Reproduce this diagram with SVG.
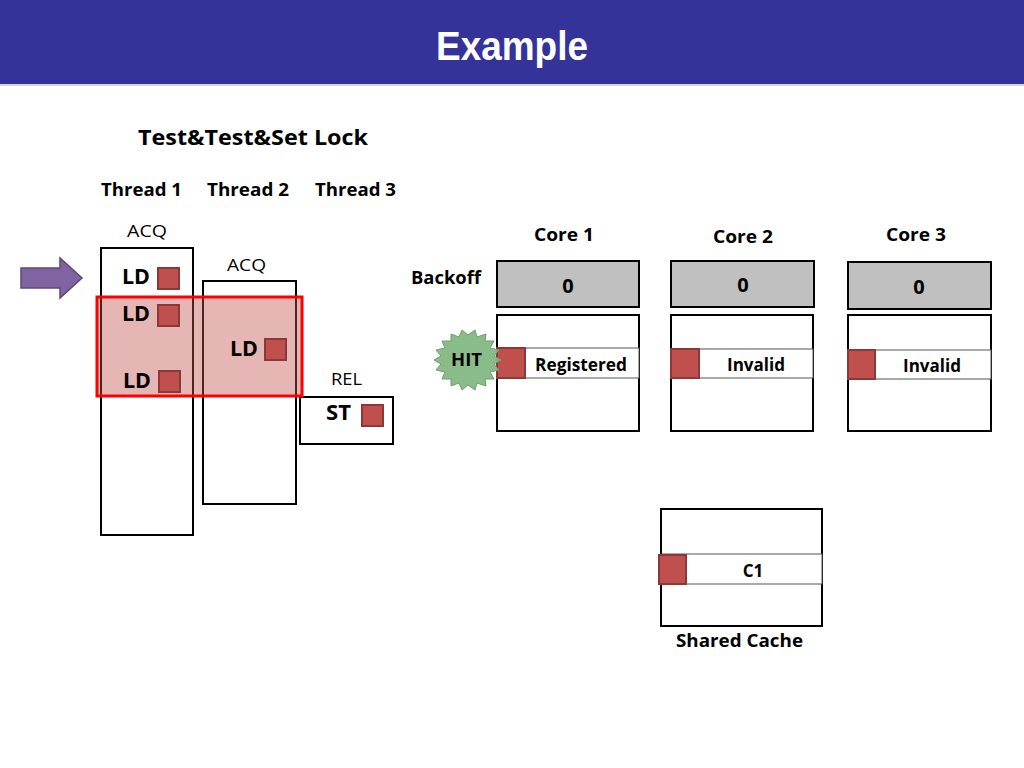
<svg xmlns="http://www.w3.org/2000/svg" width="1024" height="768" viewBox="0 0 1024 768">
<style>
.t{font-family:"Open Sans",Lato,"Liberation Sans",sans-serif;font-weight:bold;fill:#000}
.r{font-family:"Open Sans",Lato,"Liberation Sans",sans-serif;font-weight:normal;fill:#000}
.box{fill:#fff;stroke:#000;stroke-width:2}
.gray{fill:#c0c0c0;stroke:#000;stroke-width:2}
.row{fill:#fff;stroke:#555;stroke-width:1}
.sq{fill:#c0504d;stroke:#8c3836;stroke-width:2}
</style>
<rect x="0" y="0" width="1024" height="768" fill="#fff"/>
<g id="header">
<rect x="0" y="0" width="1024" height="84" fill="#343399"/>
<line x1="0" y1="85" x2="1024" y2="85" stroke="#c8c8ee" stroke-width="1.5"/>
<text x="512" y="60" text-anchor="middle" textLength="152" lengthAdjust="spacingAndGlyphs" style="font-family:'Liberation Sans',sans-serif;font-weight:bold;font-size:40px;fill:#fff">Example</text>
</g>
<g id="labels">
<text class="t" x="253" y="145" text-anchor="middle" font-size="21" textLength="230" lengthAdjust="spacingAndGlyphs">Test&amp;Test&amp;Set Lock</text>
<text class="t" x="141.5" y="196" text-anchor="middle" font-size="18" textLength="81" lengthAdjust="spacingAndGlyphs">Thread 1</text>
<text class="t" x="248" y="196" text-anchor="middle" font-size="18" textLength="82" lengthAdjust="spacingAndGlyphs">Thread 2</text>
<text class="t" x="355.5" y="196" text-anchor="middle" font-size="18" textLength="81" lengthAdjust="spacingAndGlyphs">Thread 3</text>
</g>
<g id="arrow">
<path d="M21,268 L60,268 L60,258 L82,278 L60,298 L60,288 L21,288 Z" fill="#8064a2" stroke="#5c4776" stroke-width="1.5"/>
</g>
<g id="thread1">
<text class="r" x="147" y="237" text-anchor="middle" font-size="17" textLength="40" lengthAdjust="spacingAndGlyphs">ACQ</text>
<rect class="box" x="101" y="248" width="92" height="287"/>
</g>
<g id="thread2">
<text class="r" x="246.5" y="271" text-anchor="middle" font-size="17" textLength="39" lengthAdjust="spacingAndGlyphs">ACQ</text>
<rect class="box" x="203" y="281" width="93" height="223"/>
</g>
<g id="thread3">
<text class="r" x="346.5" y="385" text-anchor="middle" font-size="17" textLength="31" lengthAdjust="spacingAndGlyphs">REL</text>
<rect class="box" x="300" y="397" width="93" height="47"/>
<text class="t" x="338.5" y="420" text-anchor="middle" font-size="21" textLength="25" lengthAdjust="spacingAndGlyphs">ST</text>
<rect class="sq" x="362" y="405" width="21" height="21"/>
</g>
<g id="highlight">
<rect x="97" y="297" width="205" height="99" fill="#c0504d" fill-opacity="0.42" stroke="#ff0000" stroke-width="3"/>
</g>
<g id="ops">
<text class="t" x="136" y="284" text-anchor="middle" font-size="21" textLength="28" lengthAdjust="spacingAndGlyphs">LD</text>
<rect class="sq" x="158" y="268" width="21" height="21"/>
<text class="t" x="136" y="321" text-anchor="middle" font-size="21" textLength="28" lengthAdjust="spacingAndGlyphs">LD</text>
<rect class="sq" x="158" y="305" width="21" height="21"/>
<text class="t" x="244" y="356" text-anchor="middle" font-size="21" textLength="28" lengthAdjust="spacingAndGlyphs">LD</text>
<rect class="sq" x="265" y="339" width="21" height="21"/>
<text class="t" x="137" y="388" text-anchor="middle" font-size="21" textLength="28" lengthAdjust="spacingAndGlyphs">LD</text>
<rect class="sq" x="159" y="371" width="21" height="21"/>
</g>
<g id="core1">
<text class="t" x="564" y="241" text-anchor="middle" font-size="18" textLength="60" lengthAdjust="spacingAndGlyphs">Core 1</text>
<text class="t" x="446" y="284" text-anchor="middle" font-size="17" textLength="70" lengthAdjust="spacingAndGlyphs">Backoff</text>
<rect class="gray" x="497" y="261" width="142" height="46"/>
<text class="t" x="568" y="293" text-anchor="middle" font-size="20">0</text>
<rect class="box" x="497" y="315" width="142" height="116"/>
<rect class="row" x="497" y="348" width="142" height="30"/>
<rect class="sq" x="497" y="348" width="28" height="30"/>
<text class="t" x="581" y="371" text-anchor="middle" font-size="17" textLength="92" lengthAdjust="spacingAndGlyphs">Registered</text>
</g>
<g id="hit">
<polygon points="501,360 494,364 499,370 490,372 494,379 485,379 486,386 477,383 475,390 468,385 462,390 459,383 451,386 451,379 442,379 445,372 436,370 441,364 434,360 441,356 436,350 445,348 442,341 451,341 451,334 459,337 462,330 468,335 475,330 477,337 486,334 485,341 494,341 490,348 499,350 494,356" fill="#84b883" fill-opacity="0.95" stroke="#6f9e6e" stroke-width="1"/>
<text class="t" x="466.5" y="366" text-anchor="middle" font-size="17" textLength="31" lengthAdjust="spacingAndGlyphs">HIT</text>
</g>
<g id="core2">
<text class="t" x="743" y="243" text-anchor="middle" font-size="18" textLength="60" lengthAdjust="spacingAndGlyphs">Core 2</text>
<rect class="gray" x="671" y="261" width="143" height="46"/>
<text class="t" x="743" y="292" text-anchor="middle" font-size="20">0</text>
<rect class="box" x="671" y="315" width="142" height="116"/>
<rect class="row" x="671" y="349" width="142" height="29"/>
<rect class="sq" x="671" y="349" width="28" height="29"/>
<text class="t" x="756" y="371" text-anchor="middle" font-size="17" textLength="58" lengthAdjust="spacingAndGlyphs">Invalid</text>
</g>
<g id="core3">
<text class="t" x="916" y="241" text-anchor="middle" font-size="18" textLength="60" lengthAdjust="spacingAndGlyphs">Core 3</text>
<rect class="gray" x="848" y="262" width="143" height="47"/>
<text class="t" x="919" y="294" text-anchor="middle" font-size="20">0</text>
<rect class="box" x="848" y="315" width="143" height="116"/>
<rect class="row" x="848" y="350" width="143" height="29"/>
<rect class="sq" x="848" y="350" width="27" height="29"/>
<text class="t" x="932" y="372" text-anchor="middle" font-size="17" textLength="58" lengthAdjust="spacingAndGlyphs">Invalid</text>
</g>
<g id="shared">
<rect class="box" x="661" y="509" width="161" height="117"/>
<rect class="row" x="661" y="554" width="161" height="30"/>
<rect class="sq" x="659" y="555" width="27" height="29"/>
<text class="t" x="753" y="577" text-anchor="middle" font-size="17">C1</text>
<text class="t" x="739.5" y="647" text-anchor="middle" font-size="18" textLength="127" lengthAdjust="spacingAndGlyphs">Shared Cache</text>
</g>
<g id="connectors"></g>
</svg>
